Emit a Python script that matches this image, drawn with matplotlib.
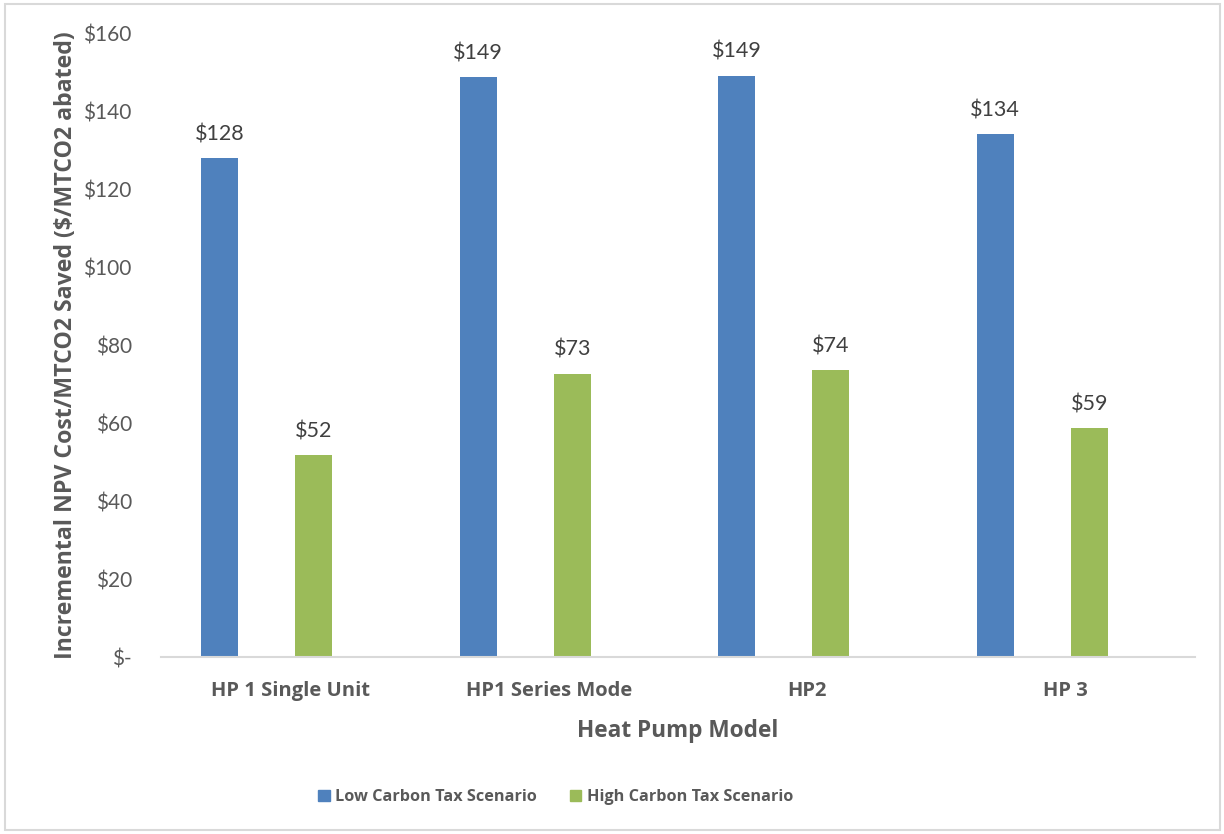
import matplotlib
matplotlib.use("Agg")
import matplotlib.pyplot as plt
from matplotlib.patches import Rectangle, Patch
import numpy as np

plt.rcParams['font.family'] = ['Lato', 'DejaVu Sans']
BOLD_FAMILY = ['Open Sans', 'DejaVu Sans']

categories = ["HP 1 Single Unit", "HP1 Series Mode", "HP2", "HP 3"]
low_tax = [127.9, 148.6, 149.1, 134.1]
high_tax = [51.8, 72.6, 73.6, 58.6]
series_names = ["Low Carbon Tax Scenario", "High Carbon Tax Scenario"]
y_ticks = [0, 20, 40, 60, 80, 100, 120, 140, 160]

BLUE = "#4f81bd"
GREEN = "#9bbb59"
TEXT = "#595959"
LABEL = "#404040"

fig = plt.figure(figsize=(12.24, 8.34), dpi=100)
ax = fig.add_axes([0.1315, 0.2122, 0.8448, 0.7482])

x = np.arange(len(categories))
w = 0.143
b1 = ax.bar(x - 0.273, low_tax, w, color=BLUE, label=series_names[0])
b2 = ax.bar(x + 0.091, high_tax, w, color=GREEN, label=series_names[1])

for bars, vals in ((b1, low_tax), (b2, high_tax)):
    for r, v in zip(bars, vals):
        ax.annotate(f"${v:.0f}", (r.get_x() + r.get_width() / 2, v),
                    xytext=(0, 10), textcoords="offset points",
                    ha="center", va="bottom", fontsize=15.5, color=LABEL)

ax.set_xlim(-0.5, 3.5)
ax.set_ylim(0, 160)
ax.set_yticks(y_ticks)
ax.set_yticklabels(["$-" if t == 0 else f"${t}" for t in y_ticks])
ax.set_xticks(x)
ax.set_xticklabels(categories, fontweight="bold", family=BOLD_FAMILY)
ax.tick_params(axis="y", length=0, pad=21, labelsize=15, labelcolor=TEXT)
ax.tick_params(axis="x", length=0, pad=17, labelsize=14.5, labelcolor=TEXT)

for s in ("top", "right", "left"):
    ax.spines[s].set_visible(False)
ax.spines["bottom"].set_color("#d9d9d9")
ax.spines["bottom"].set_linewidth(1.5)

ax.set_xlabel("Heat Pump Model", fontsize=16.3, fontweight="bold", family=BOLD_FAMILY,
              color=TEXT, labelpad=13)
ax.set_ylabel("Incremental NPV Cost/MTCO2 Saved ($/MTCO2 abated)",
              fontsize=16.7, fontweight="bold", family=BOLD_FAMILY, color=TEXT, labelpad=4)

handles = [Patch(color=BLUE), Patch(color=GREEN)]
fig.legend(handles, series_names, loc="center", bbox_to_anchor=(0.454, 0.044),
           ncol=2, frameon=False, handlelength=0.7, handleheight=0.7,
           handletextpad=0.35, columnspacing=2.0,
           prop={"size": 11.7, "weight": "bold", "family": BOLD_FAMILY}, labelcolor=TEXT)

fig.patches.append(Rectangle((0.004, 0.005), 0.993, 0.99, transform=fig.transFigure,
                             fill=False, edgecolor="#d9d9d9", linewidth=1.5))

fig.savefig("out.png", dpi=100)
